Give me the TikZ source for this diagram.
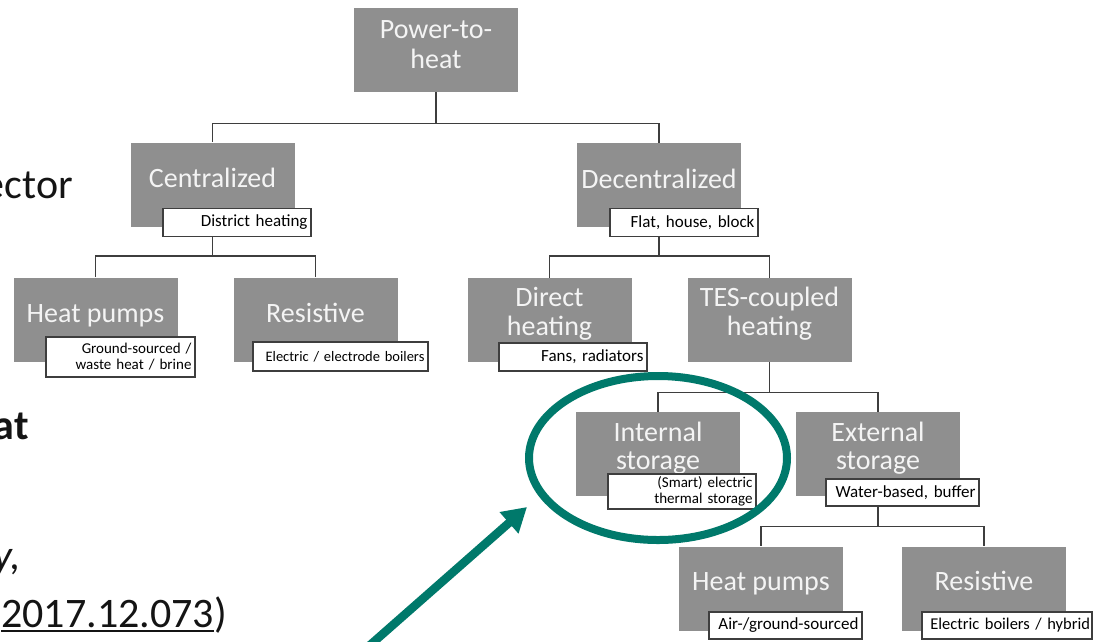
\documentclass[tikz,border=0pt]{standalone}
\usepackage{fontspec}
\setmainfont{Carlito}
\usetikzlibrary{arrows.meta,shapes.geometric,calc}
\definecolor{boxgray}{RGB}{143,143,143}
\definecolor{boxtext}{RGB}{244,244,244}
\definecolor{linegray}{RGB}{62,62,62}
\definecolor{hlteal}{RGB}{0,121,107}
\definecolor{slidetext}{RGB}{20,20,20}
\begin{document}
\begin{tikzpicture}[x=1pt,y=-1pt,
  box/.style={fill=boxgray, draw=none, minimum width=164pt, minimum height=84pt, inner sep=0pt},
  btxt/.style={text=boxtext, font=\fontsize{28}{30}\selectfont, anchor=base, inner sep=0pt},
  lbl/.style={draw=linegray, fill=white, line width=1.2pt, font=\fontsize{17}{18}\selectfont,
              align=right, inner xsep=3.5pt, inner ysep=0pt, text width=#1, minimum height=28pt},
  small/.style={font=\fontsize{15}{16}\selectfont},
  conn/.style={draw=linegray, line width=1.4pt},
  slide/.style={text=slidetext, font=\fontsize{42}{48}\selectfont, anchor=base east, inner sep=0pt}]
\useasboundingbox (0,0) rectangle (1094,641);
\fill[white] (0,0) rectangle (1094,641);
\clip (0,0) rectangle (1094,641);

% slide text fragments
\node[slide] (s1) at (73,198) {ector};
\node[slide, font=\fontsize{42}{48}\selectfont\bfseries] (s2) at (29,439) {at};
\node[slide, font=\fontsize{42}{48}\selectfont\itshape] (s3) at (21,569) {y,};
\node[slide] (s4) at (227,627) {\setbox0\hbox{2017.12.073}\rlap{\rule[-5pt]{\wd0}{2pt}}\box0)};

% boxes
\node[box] (pth)  at (436,50) {};
\node[box] (cen)  at (212.5,184.5) {};
\node[box] (dec)  at (659,185) {};
\node[box] (hpa)  at (95.5,319.5) {};
\node[box] (resa) at (315.5,319.5) {};
\node[box] (dir)  at (549.5,320) {};
\node[box] (tes)  at (769.5,320) {};
\node[box] (int)  at (658,454) {};
\node[box] (ext)  at (878,454) {};
\node[box] (hpb)  at (761,588.5) {};
\node[box] (resb) at (984,588.5) {};

% box texts
\node[btxt] (pth-1) at ($(pth.center)+(0,-12)$) {Power-to-};
\node[btxt] (pth-2) at ($(pth.center)+(0,18)$) {heat};
\node[btxt] (cen-1) at ($(cen.center)+(0,3)$) {Centralized};
\node[btxt] (dec-1) at ($(dec.center)+(0,3)$) {Decentralized};
\node[btxt] (hpa-1) at ($(hpa.center)+(0,3)$) {Heat pumps};
\node[btxt] (resa-1) at ($(resa.center)+(0,3)$) {Resistive};
\node[btxt] (dir-1) at ($(dir.center)+(0,-14)$) {Direct};
\node[btxt] (dir-2) at ($(dir.center)+(0,15)$) {heating};
\node[btxt] (tes-1) at ($(tes.center)+(0,-14)$) {TES-coupled};
\node[btxt] (tes-2) at ($(tes.center)+(0,15)$) {heating};
\node[btxt] (int-1) at ($(int.center)+(0,-13)$) {Internal};
\node[btxt] (int-2) at ($(int.center)+(0,15)$) {storage};
\node[btxt] (ext-1) at ($(ext.center)+(0,-13)$) {External};
\node[btxt] (ext-2) at ($(ext.center)+(0,15)$) {storage};
\node[btxt] (hpb-1) at ($(hpb.center)+(0,2)$) {Heat pumps};
\node[btxt] (resb-1) at ($(resb.center)+(0,2)$) {Resistive};

% labels
\node[lbl=141pt] (lcen) at (237,222.5) {District heating};
\node[lbl=141pt] (ldec) at (684,222.5) {Flat, house, block};
\node[lbl=142pt, small, minimum height=40pt] (lhpa) at (120.5,357) {Ground-sourced /\\waste heat / brine};
\node[lbl=168pt, font=\fontsize{14.5}{16}\selectfont, minimum height=29pt] (lresa) at (340.5,356.5) {Electric / electrode boilers};
\node[lbl=141pt] (ldir) at (573,357) {Fans, radiators};
\node[lbl=141pt, small, minimum height=35pt] (lint) at (682,491.5) {(Smart) electric\\thermal storage};
\node[lbl=146pt, minimum height=27pt] (lext) at (902.5,492.5) {Water-based, buffer};
\node[lbl=146pt, minimum height=27pt] (lhpb) at (785.5,625.5) {Air-/ground-sourced};
\node[lbl=166pt, inner xsep=2pt, font=\fontsize{16.5}{18}\selectfont, minimum height=27pt] (lresb) at (1007,625.5) {Electric boilers / hybrid};

% connectors
\draw[conn] (pth.south) -- ++(0,31) -| (cen.north);
\draw[conn] (pth.south) -- ++(0,31) -| (dec.north);
\draw[conn] (lcen.south -| cen.center) -- ++(0,19) -| (hpa.north);
\draw[conn] (lcen.south -| cen.center) -- ++(0,19) -| (resa.north);
\draw[conn] (ldec.south -| dec.center) -- ++(0,19) -| (dir.north);
\draw[conn] (ldec.south -| dec.center) -- ++(0,19) -| (tes.north);
\draw[conn] (tes.south) -- ++(0,30) -| (int.north);
\draw[conn] (tes.south) -- ++(0,30) -| (ext.north);
\draw[conn] (lext.south -| ext.center) -- ++(0,20) -| (hpb.north);
\draw[conn] (lext.south -| ext.center) -- ++(0,20) -| (resb.north);

% highlight
\node[draw=hlteal, line width=8pt, ellipse, minimum width=258pt, minimum height=164pt, inner sep=0pt] (ring) at (658,458) {};
\coordinate (arrS) at (369,646);
\coordinate (arrE) at (527,507);
\draw[hlteal, line width=8.5pt, -{Triangle[length=24pt,width=27pt]}] (arrS) -- (arrE);
\end{tikzpicture}
\end{document}
